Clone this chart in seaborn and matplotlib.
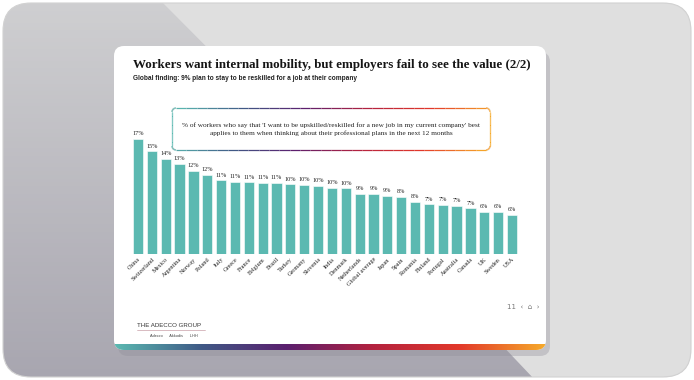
import numpy as np
import matplotlib
matplotlib.use("Agg")
import matplotlib.pyplot as plt
import seaborn as sns
from matplotlib.patches import FancyBboxPatch, Polygon
from matplotlib.collections import LineCollection
from matplotlib.colors import LinearSegmentedColormap

# data
countries = ["China", "Switzerland", "Mexico", "Argentina", "Norway", "Poland", "Italy",
             "Greece", "France", "Belgium", "Brazil", "Turkey", "Germany", "Slovenia",
             "India", "Denmark", "Netherlands", "Global average", "Japan", "Spain",
             "Romania", "Finland", "Portugal", "Australia", "Canada", "UK", "Sweden", "USA"]
shares = [17.2, 15.3, 14.2, 13.4, 12.4, 11.8, 11.0, 10.8, 10.7, 10.6, 10.6, 10.4, 10.3, 10.2,
          9.9, 9.8, 9.0, 9.0, 8.7, 8.5, 7.8, 7.4, 7.3, 7.2, 6.8, 6.3, 6.3, 5.8]
pct_labels = ["17%", "15%", "14%", "13%", "12%", "12%", "11%", "11%", "11%", "11%", "11%",
              "10%", "10%", "10%", "10%", "10%", "9%", "9%", "9%", "8%", "8%", "7%", "7%",
              "7%", "7%", "6%", "6%", "6%"]

TITLE = "Workers want internal mobility, but employers fail to see the value (2/2)"
SUBTITLE = "Global finding: 9% plan to stay to be reskilled for a job at their company"
NOTE = ("% of workers who say that 'I want to be upskilled/reskilled for a new job in my current company' best\n"
        "applies to them when thinking about their professional plans in the next 12 months")

BAR = "#5bb9b1"
brand = LinearSegmentedColormap.from_list(
    "brand", ["#5bb9b1", "#3f5a86", "#5b1f6e", "#b3223f", "#e2382a", "#f6aa2a"])

sns.set_theme(style="white")
plt.rcParams["font.family"] = ["Liberation Serif", "DejaVu Serif"]

fig = plt.figure(figsize=(6.94, 3.80), dpi=100)
fig.patch.set_facecolor("white")

# pixel-space backdrop
bg = fig.add_axes([0, 0, 1, 1])
bg.set_xlim(0, 694)
bg.set_ylim(380, 0)
bg.axis("off")

frame = FancyBboxPatch((3, 3), 688, 374, boxstyle="round,pad=0,rounding_size=28",
                       fc="none", ec="#d2d2d2", lw=0.8, zorder=1.5)
bg.add_patch(frame)
shade = bg.imshow(np.linspace(0, 1, 100).reshape(-1, 1), cmap=LinearSegmentedColormap.from_list(
    "sh", ["#cfcfd1", "#a8a6b0"]), extent=[0, 694, 380, 0], aspect="auto", zorder=1)
shade.set_clip_path(frame)
light = Polygon([(160, 0), (694, 0), (694, 380), (535, 380), (480, 322)], closed=True,
                fc="#dfdfdf", ec="none", zorder=1.2)
bg.add_patch(light)
light.set_clip_path(frame)

# slide card
bg.add_patch(FancyBboxPatch((118, 52), 432, 304, boxstyle="round,pad=0,rounding_size=10",
                            fc="#8f8d98", ec="none", alpha=0.35, zorder=2))
card = FancyBboxPatch((114, 46), 432, 304, boxstyle="round,pad=0,rounding_size=10",
                      fc="white", ec="none", zorder=3)
bg.add_patch(card)
strip = bg.imshow(np.linspace(0, 1, 256).reshape(1, -1), cmap=brand,
                  extent=[114, 546, 350, 344], aspect="auto", zorder=4)
strip.set_clip_path(card)
bg.set_xlim(0, 694)
bg.set_ylim(380, 0)

bg.text(133, 68, TITLE, fontsize=9.4, fontweight="bold", color="#151515", zorder=5,
        family=["Liberation Serif"])
bg.text(133, 80, SUBTITLE, fontsize=4.7, fontweight="bold", color="#222222", zorder=5,
        family=["Liberation Sans"])

# note box with gradient outline
x0, x1, y0, y1, r = 172, 490, 108, 150, 4
t = np.linspace(0, np.pi / 2, 8)
pts = np.vstack([
    np.column_stack([x1 - r + r * np.sin(t), y0 + r - r * np.cos(t)]),
    np.column_stack([x1 - r + r * np.cos(t), y1 - r + r * np.sin(t)]),
    np.column_stack([x0 + r - r * np.sin(t), y1 - r + r * np.cos(t)]),
    np.column_stack([x0 + r - r * np.cos(t), y0 + r - r * np.sin(t)]),
])
pts = np.vstack([pts, pts[:1]])
dense = []
for a, b in zip(pts[:-1], pts[1:]):
    for s in np.linspace(0, 1, 30, endpoint=False):
        dense.append(a + (b - a) * s)
dense.append(pts[-1])
dense = np.array(dense)
segs = np.stack([dense[:-1], dense[1:]], axis=1)
lc = LineCollection(segs, colors=brand((segs[:, 0, 0] - x0) / (x1 - x0)), lw=0.9, zorder=5)
bg.add_collection(lc)
bg.text((x0 + x1) / 2, (y0 + y1) / 2, NOTE, ha="center", va="center", fontsize=5.2,
        color="#222222", linespacing=1.6, zorder=5)

# footer
bg.text(137, 327, "THE ADECCO GROUP", fontsize=4.4, color="#333333", zorder=5,
        family=["Liberation Sans"])
bg.plot([137, 205], [330, 330], color="#c9a0a8", lw=0.5, zorder=5)
bg.text(150, 337, "Adecco      Akkodis      LHH", fontsize=2.8, color="#444444", zorder=5,
        family=["Liberation Sans"])
bg.text(540, 309, "11  \u2039  \u2302  \u203a", fontsize=5, color="#777777", ha="right",
        zorder=5, family=["DejaVu Sans"])

# bar chart
ax = fig.add_axes([0.1888, 0.3316, 0.559, 0.3526])
ax.set_facecolor("none")
sns.barplot(x=countries, y=shares, color=BAR, saturation=1, width=0.74,
            edgecolor="white", linewidth=0.4, ax=ax)
ax.bar_label(ax.containers[0], labels=pct_labels, padding=2, fontsize=4.4, color="#222222")
ax.set_xlim(-0.5, len(countries) - 0.5)
ax.set_ylim(0, 20)
ax.set_yticks([])
ax.set_xlabel("")
ax.set_ylabel("")
for sp in ax.spines.values():
    sp.set_visible(False)
ax.tick_params(axis="x", length=0, pad=2)
ax.set_xticks(range(len(countries)))
ax.set_xticklabels(countries, rotation=45, ha="right", rotation_mode="anchor",
                   fontsize=4.5, color="#222222")

fig.savefig("out.png", dpi=100)
